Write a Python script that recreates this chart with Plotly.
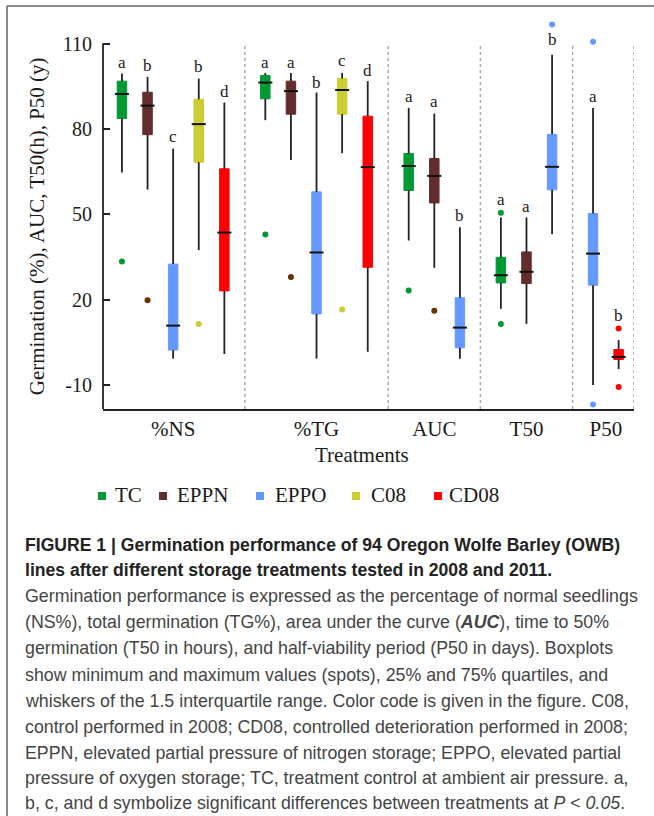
import plotly.graph_objects as go

# ---------------- data ----------------
metrics = ["%NS", "%TG", "AUC", "T50", "P50"]
treatments = ["TC", "EPPN", "EPPO", "C08", "CD08"]

# [lower whisker, Q1, median, Q3, upper whisker] per metric; None = not shown
tc_stats = [[64.7, 83.7, 92.3, 96.8, 99.5], [83.1, 90.6, 96.3, 98.8, 99.7],
            [40.8, 58.4, 67.0, 71.4, 87.4], [16.8, 25.9, 28.6, 34.9, 48.9], None]
eppn_stats = [[58.7, 78.0, 88.2, 92.9, 98.3], [69.1, 85.2, 93.3, 96.8, 99.7],
              [31.2, 54.0, 63.5, 69.6, 85.4], [11.5, 25.7, 29.8, 36.8, 48.9], None]
eppo_stats = [[-0.7, 2.3, 10.9, 32.5, 73.1], [-0.7, 15.0, 36.6, 57.9, 92.8],
              [-0.7, 3.1, 10.2, 20.7, 45.5], [43.0, 58.6, 66.7, 78.1, 106.1],
              [-10.0, 25.1, 36.2, 50.3, 87.4]]
c08_stats = [[37.4, 68.3, 81.7, 90.4, 97.7], [71.5, 85.2, 93.7, 97.7, 99.7], None, None, None]
cd08_stats = [[0.9, 23.1, 43.6, 66.0, 89.3], [1.7, 31.4, 66.6, 84.5, 96.8], None, None,
              [-4.4, -1.0, -0.1, 2.5, 5.8]]

# min / max spots
tc_spots = [[33.4], [42.9], [23.2], [50.6, 11.5], None]
eppn_spots = [[19.8], [28.0], [16.1], [], None]
eppo_spots = [[], [], [], [116.7], [110.6, -16.8]]
c08_spots = [[11.5], [16.6], None, None, None]
cd08_spots = [[], [], None, None, [9.9, -10.7]]

# significance letters and their heights
tc_letters = ["a", "a", "a", "a", None]
eppn_letters = ["b", "a", "a", "a", None]
eppo_letters = ["c", "b", "b", "b", "a"]
c08_letters = ["b", "c", None, None, None]
cd08_letters = ["d", "d", None, None, "b"]

tc_letter_y = [103.3, 103.3, 91.3, 55.2, None]
eppn_letter_y = [102.4, 103.3, 89.5, 52.9, None]
eppo_letter_y = [77.2, 96.5, 49.7, 111.4, 91.3]
c08_letter_y = [101.8, 103.9, None, None, None]
cd08_letter_y = [93.3, 100.6, None, None, 14.5]

y_ticks = [-10, 20, 50, 80, 110]
y_tick_labels = ["-10", "20", "50", "80", "110"]

# ---------------- styling ----------------
box_colors = ["#009933", "#632D2D", "#6699FF", "#CCCC33", "#FF0000"]
spot_colors = ["#009933", "#663300", "#6699FF", "#CCCC33", "#FF0000"]

stats = [tc_stats, eppn_stats, eppo_stats, c08_stats, cd08_stats]
spots = [tc_spots, eppn_spots, eppo_spots, c08_spots, cd08_spots]
letters = [tc_letters, eppn_letters, eppo_letters, c08_letters, cd08_letters]
letter_ys = [tc_letter_y, eppn_letter_y, eppo_letter_y, c08_letter_y, cd08_letter_y]

W, H = 654, 816
ML, MR, MT, MB = 103, 20, 10, 407
PW, PH = W - ML - MR, H - MT - MB
Y_LO, Y_HI = -18.4, 121.8
SERIF = "Liberation Serif"
SANS = "Liberation Sans"


def px_x(x):
    return (x - ML) / PW


def px_y(y):
    return (H - MB - y) / PH


# layout of slots along the x axis
SLOT, GAP, BOXW = 1.0, 0.6, 0.37
pos = {}
bounds = []
cur = 0.0
for mi in range(len(metrics)):
    if mi > 0:
        cur += GAP
    first = cur
    for ti in range(len(treatments)):
        if stats[ti][mi] is not None:
            pos[(mi, ti)] = cur
            cur += SLOT
    bounds.append((first, cur - SLOT))
x_left = bounds[0][0] - 0.74
x_right = bounds[-1][1] + GAP

fig = go.Figure()

for ti in range(len(treatments)):
    for mi in range(len(metrics)):
        s = stats[ti][mi]
        if s is None:
            continue
        x = pos[(mi, ti)]
        lo, q1, med, q3, hi = s
        # whiskers
        fig.add_trace(go.Scatter(x=[x, x, None, x, x], y=[lo, q1, None, q3, hi], mode="lines",
                                 line=dict(color="#222222", width=1.8), showlegend=False,
                                 hoverinfo="skip"))
        # box
        fig.add_trace(go.Box(x=[x], q1=[q1], median=[med], q3=[q3], lowerfence=[q1],
                             upperfence=[q3], width=BOXW, fillcolor=box_colors[ti],
                             line=dict(color=box_colors[ti], width=1), whiskerwidth=0,
                             boxpoints=False, name=treatments[ti], showlegend=False))
        # median
        fig.add_trace(go.Scatter(x=[x], y=[med], mode="markers",
                                 marker=dict(symbol="line-ew", size=10,
                                             line=dict(color="#111111", width=2)),
                                 showlegend=False, hoverinfo="skip"))
        # spots
        sp = spots[ti][mi]
        if sp:
            fig.add_trace(go.Scatter(x=[x] * len(sp), y=sp, mode="markers",
                                     marker=dict(color=spot_colors[ti], size=6),
                                     showlegend=False, cliponaxis=False))
        # letters
        L = letters[ti][mi]
        if L:
            fig.add_annotation(x=x, y=letter_ys[ti][mi], xref="x", yref="y", text=L,
                               showarrow=False, yanchor="middle",
                               font=dict(family=SERIF, size=17, color="#1a1a1a"))

# separators (dotted)
sep_x = [(bounds[i][1] + bounds[i + 1][0]) / 2 for i in range(len(bounds) - 1)] + [x_right]
for sx in sep_x:
    fig.add_shape(type="line", xref="x", yref="y", x0=sx, x1=sx, y0=Y_LO, y1=110,
                  line=dict(color="#aaaaaa", width=1.5, dash="dot"), layer="below")

# y axis line (only up to the top tick)
fig.add_shape(type="line", xref="paper", yref="y", x0=0, x1=0, y0=Y_LO, y1=110,
              line=dict(color="#222222", width=1.8))

# y axis title
fig.add_annotation(x=px_x(37), y=(110 + Y_LO) / 2, xref="paper", yref="y",
                   text="Germination (%), AUC, T50(h), P50 (y)", textangle=-90,
                   showarrow=False, xanchor="center", yanchor="middle",
                   font=dict(family=SERIF, size=21, color="#1a1a1a"))
# x axis title
fig.add_annotation(x=px_x(362), y=px_y(455), xref="paper", yref="paper", text="Treatments",
                   showarrow=False, xanchor="center", yanchor="middle",
                   font=dict(family=SERIF, size=21, color="#1a1a1a"))

# legend (manual)
leg_sq = [102, 163, 260, 356, 438]
leg_tx = [113, 175, 273, 369, 447]
for ti, name in enumerate(treatments):
    fig.add_shape(type="rect", xref="paper", yref="paper",
                  x0=px_x(leg_sq[ti] - 4), x1=px_x(leg_sq[ti] + 4),
                  y0=px_y(496 + 4), y1=px_y(496 - 4),
                  fillcolor=box_colors[ti], line=dict(width=0))
    fig.add_annotation(x=px_x(leg_tx[ti]), y=px_y(495), xref="paper", yref="paper", text=name,
                       showarrow=False, xanchor="left", yanchor="middle",
                       font=dict(family=SERIF, size=21, color="#1a1a1a"))

# caption
caption = [
    "<b>FIGURE 1 | Germination performance of 94 Oregon Wolfe Barley (OWB)</b>",
    "<b>lines after different storage treatments tested in 2008 and 2011.</b>",
    "Germination performance is expressed as the percentage of normal seedlings",
    "(NS%), total germination (TG%), area under the curve (<b><i>AUC</i></b>), time to 50%",
    "germination (T50 in hours), and half-viability period (P50 in days). Boxplots",
    "show minimum and maximum values (spots), 25% and 75% quartiles, and",
    "whiskers of the 1.5 interquartile range. Color code is given in the figure. C08,",
    "control performed in 2008; CD08, controlled deterioration performed in 2008;",
    "EPPN, elevated partial pressure of nitrogen storage; EPPO, elevated partial",
    "pressure of oxygen storage; TC, treatment control at ambient air pressure. a,",
    "b, c, and d symbolize significant differences between treatments at <i>P</i> &lt; <i>0.05</i>.",
]
cap_y = [545, 570, 596, 622, 648, 675, 701, 727, 753, 778, 803]
for i, line in enumerate(caption):
    bold = i < 2
    fig.add_annotation(x=px_x(23), y=px_y(cap_y[i]), xref="paper", yref="paper", text=line,
                       showarrow=False, xanchor="left", yanchor="middle",
                       font=dict(family=SANS, size=17.6 if bold else 17.8,
                                 color="#222222" if bold else "#444444"))

# frame lines
fig.add_shape(type="line", xref="paper", yref="paper", x0=px_x(7), x1=px_x(W), y0=px_y(6), y1=px_y(6),
              line=dict(color="#666666", width=1.5))
fig.add_shape(type="line", xref="paper", yref="paper", x0=px_x(7), x1=px_x(7), y0=px_y(6), y1=px_y(H),
              line=dict(color="#666666", width=1.5))

fig.update_layout(
    width=W, height=H, autosize=False,
    margin=dict(l=ML, r=MR, t=MT, b=MB, pad=0),
    paper_bgcolor="white", plot_bgcolor="white",
    showlegend=False,
    boxmode="overlay",
    xaxis=dict(range=[x_left, x_right], tickvals=[(a + b) / 2 for a, b in bounds], ticktext=metrics,
               ticks="", showline=True, linecolor="#222222", linewidth=2, showgrid=False,
               zeroline=False, ticklabelstandoff=0,
               tickfont=dict(family=SERIF, size=21, color="#1a1a1a")),
    yaxis=dict(range=[Y_LO, Y_HI], tickvals=y_ticks, ticktext=y_tick_labels, ticks="inside",
               ticklen=7, tickwidth=1.5, tickcolor="#222222", showline=False, showgrid=False,
               zeroline=False, ticklabelstandoff=10,
               tickfont=dict(family=SERIF, size=20, color="#1a1a1a")),
)

fig.write_html("out.html", config={"displayModeBar": False},
               post_script="document.body.style.margin='0px';")
